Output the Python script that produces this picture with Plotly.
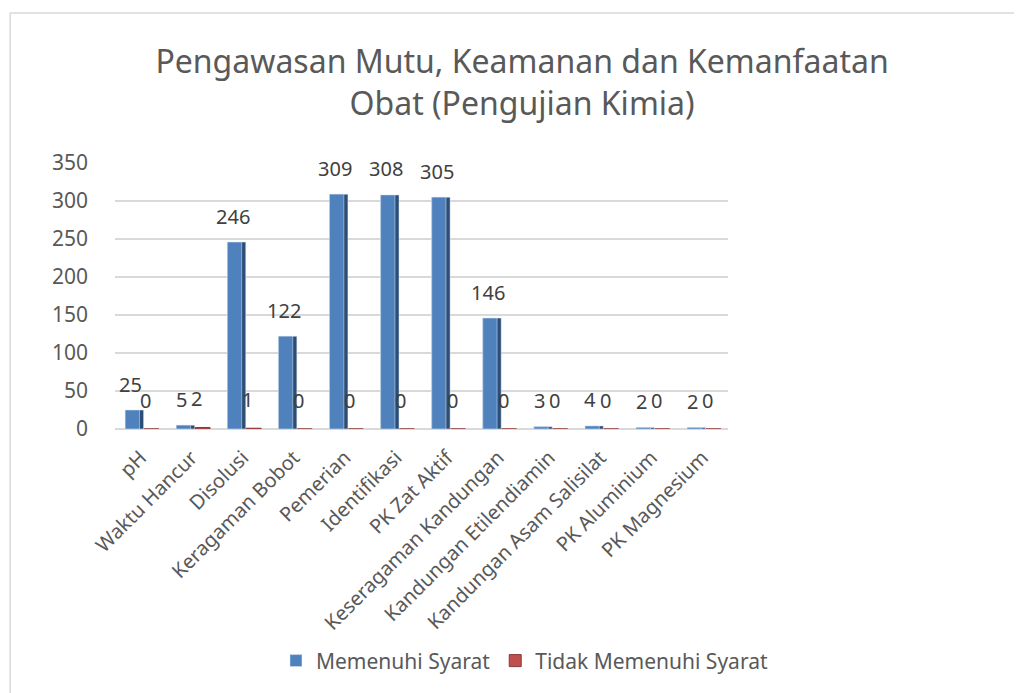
import plotly.graph_objects as go

categories = ["pH", "Waktu Hancur", "Disolusi", "Keragaman Bobot", "Pemerian",
              "Identifikasi", "PK Zat Aktif", "Keseragaman Kandungan",
              "Kandungan Etilendiamin", "Kandungan Asam Salisilat",
              "PK Aluminium", "PK Magnesium"]
memenuhi = [25, 5, 246, 122, 309, 308, 305, 146, 3, 4, 2, 2]
tidak = [0, 2, 1, 0, 0, 0, 0, 0, 0, 0, 0, 0]

FONT = "Noto Sans"
GRAY = "#595959"
BLUE = "#4f81bd"
BLUE_SIDE = "#2c4d75"
RED = "#c0504d"

fig = go.Figure()
# side face of blue columns (3D look)
fig.add_trace(go.Bar(x=categories, y=memenuhi, marker_color=BLUE_SIDE, width=0.36,
                     offset=-0.3, showlegend=False, hoverinfo="skip"))
fig.add_trace(go.Bar(x=categories, y=memenuhi, name="Memenuhi Syarat", marker_color=BLUE,
                     width=0.28, offset=-0.3))
fig.add_trace(go.Bar(x=categories, y=tidak, name="Tidak Memenuhi Syarat", marker_color=RED,
                     width=0.29, offset=0.07, marker_line=dict(color="#8c3836", width=1)))

for c, v in zip(categories, memenuhi):
    fig.add_annotation(x=c, y=v, text=str(v), showarrow=False, xshift=-10, yshift=26,
                       font=dict(family=FONT, size=20, color="#404040"))
for c, v in zip(categories, tidak):
    fig.add_annotation(x=c, y=v, text=str(v), showarrow=False, xshift=5, yshift=29,
                       font=dict(family=FONT, size=20, color="#404040"))

# chart border frame
fig.add_shape(type="rect", xref="paper", yref="paper", x0=-0.171, x1=1.6, y0=-1.2, y1=1.564,
              line=dict(color="#d9d9d9", width=1.5), fillcolor="rgba(0,0,0,0)", layer="below")

fig.update_layout(
    width=1022, height=693,
    margin=dict(l=107, r=302, t=155, b=272),
    paper_bgcolor="white", plot_bgcolor="white",
    barmode="overlay",
    title=dict(text="Pengawasan Mutu, Keamanan dan Kemanfaatan<br>Obat (Pengujian Kimia)",
               x=0.503, xanchor="center", y=0.906, yanchor="middle", yref="container",
               font=dict(family=FONT, size=32, color=GRAY)),
    legend=dict(orientation="h", x=0.668, xanchor="center", y=-0.872, yanchor="middle",
                font=dict(family=FONT, size=21, color=GRAY), itemwidth=30,
                traceorder="normal"),
    font=dict(family=FONT, color=GRAY),
)
fig.update_yaxes(range=[0, 350], dtick=50, showgrid=True, gridcolor="#d9d9d9", gridwidth=1.5,
                 zeroline=True, zerolinecolor="#d9d9d9", zerolinewidth=1.5,
                 tickfont=dict(family=FONT, size=21, color=GRAY), ticklabelstandoff=26,
                 showline=False)
fig.update_xaxes(tickangle=-45, tickfont=dict(family=FONT, size=20, color=GRAY),
                 ticklabelstandoff=12, showline=False, showgrid=False)

fig.write_html("out.html")
